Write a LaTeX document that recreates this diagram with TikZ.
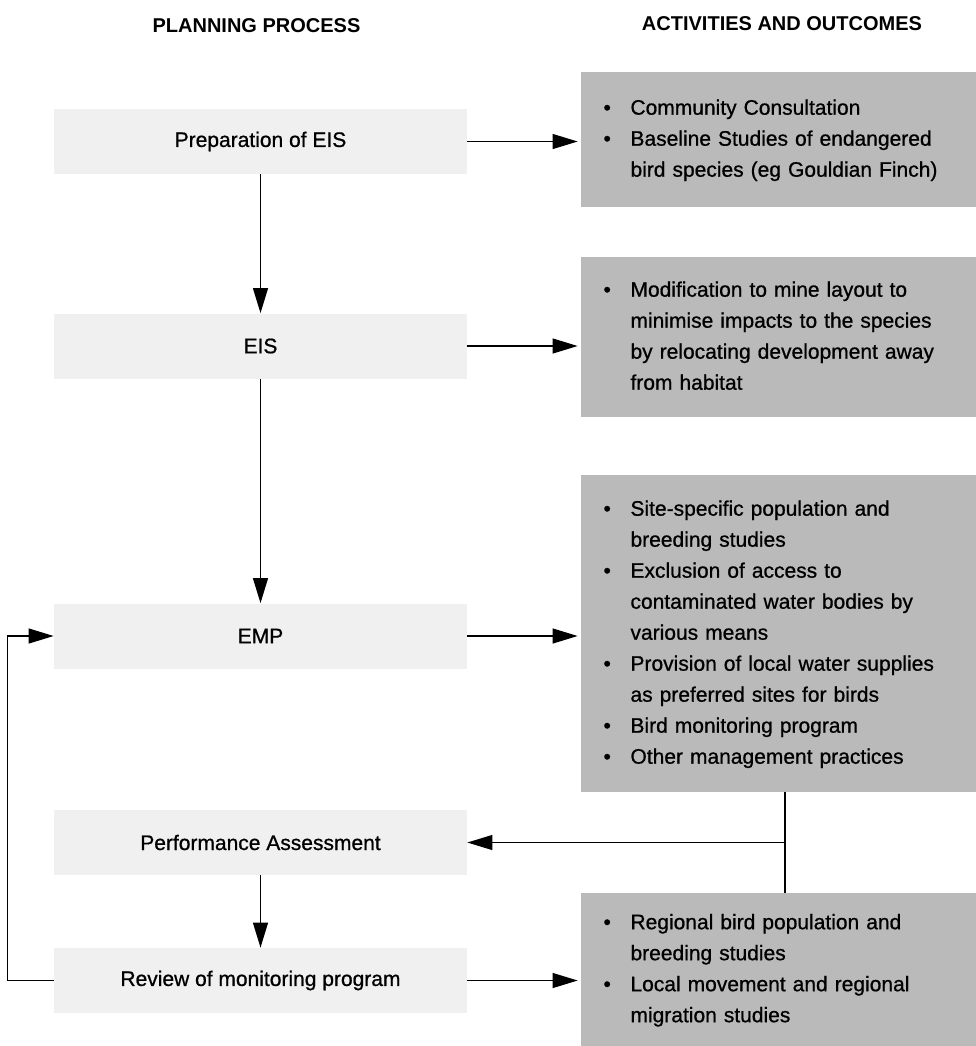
\documentclass[tikz,border=0pt]{standalone}
\usepackage{fontspec}
\setmainfont{Liberation Sans}
\newfontfamily\boxfont{Liberation Sans}[FakeBold=0.8]
\usetikzlibrary{arrows.meta}

\newcommand{\bul}{\textbullet}

\begin{document}
\begin{tikzpicture}[
  x = 0.5pt, y = -0.5pt,
  block_plan/.style={rectangle, text centered, fill=black!6,
    minimum height = 32.5pt, minimum width = 206.5pt, font=\boxfont\fontsize{10.5}{15.5}\selectfont},
  block_out/.style={rectangle, align=left, fill=black!27, text width = 175pt,
    inner xsep = 11.25pt, font=\boxfont\fontsize{10.5}{15.5}\selectfont},
  title/.style={font=\bfseries\fontsize{10}{12}\selectfont},
  line/.style={draw, -, line width=0.6pt},
  line_arrow/.style={draw, line width=0.6pt, -{Triangle[length=12.5pt,width=7.5pt]}}
  ]
\useasboundingbox (0,0) rectangle (976,1046);

\node [block_plan] (prep) at (260.5,141.5) {Preparation of EIS};
\node [block_plan, below of=prep, node distance=102.25pt] (eis) {EIS};
\node [block_plan, below of=eis, node distance=145pt] (emp) {EMP};
\node [block_plan, below of=emp, node distance=103.25pt] (perf) {Performance Assessment};
\node [block_plan, below of=perf, node distance=69pt] (review) {Review of monitoring program};

\node [title, above of=prep, node distance=58pt, xshift=-2pt] (t_plan) {PLANNING PROCESS};

\node [block_out, right of=prep, node distance=259pt, yshift=1pt, minimum height=67.5pt] (out_prep)
  {\begin{tabular}{@{}p{13.5pt}@{}l@{}}
   \bul & Community Consultation\\
   \bul & Baseline Studies of endangered\\
        & bird species (eg Gouldian Finch)
   \end{tabular}};
\node [block_out, right of=eis, node distance=259pt, yshift=4.5pt, minimum height=80pt] (out_eis)
  {\begin{tabular}{@{}p{13.5pt}@{}l@{}}
   \bul & Modification to mine layout to\\
        & minimise impacts to the species\\
        & by relocating development away\\
        & from habitat
   \end{tabular}};
\node [block_out, right of=emp, node distance=259pt, yshift=1.25pt, minimum height=158.5pt] (out_emp)
  {\begin{tabular}{@{}p{13.5pt}@{}l@{}}
   \bul & Site-specific population and\\
        & breeding studies\\
   \bul & Exclusion of access to\\
        & contaminated water bodies by\\
        & various means\\
   \bul & Provision of local water supplies\\
        & as preferred sites for birds\\
   \bul & Bird monitoring program\\
   \bul & Other management practices
   \end{tabular}};
\node [block_out, right of=review, node distance=259pt, yshift=5.5pt, minimum height=76.5pt] (out_review)
  {\begin{tabular}{@{}p{13.5pt}@{}l@{}}
   \bul & Regional bird population and\\
        & breeding studies\\
   \bul & Local movement and regional\\
        & migration studies
   \end{tabular}};

\node [title, above of=out_prep, node distance=58pt, xshift=1.75pt] (t_out) {ACTIVITIES AND OUTCOMES};

\path [line_arrow] (prep) -- (eis);
\path [line_arrow] (eis) -- (emp);
\path [line_arrow] (perf) -- (review);

\path [line_arrow, shorten >=1.5pt] (prep.east) -- (prep.east -| out_prep.west);
\path [line_arrow, shorten >=1.5pt] (eis.east) -- (eis.east -| out_eis.west);
\path [line_arrow, shorten >=1.5pt] (emp.east) -- (emp.east -| out_emp.west);
\path [line_arrow, shorten >=1.5pt] (review.east) -- (review.east -| out_review.west);

\path [line_arrow] (review.west) -- ++(-46,0) |- (emp.west);

\path [line] ([xshift=3.25pt]out_emp.south) -- ([xshift=3.25pt]out_emp.south |- out_review.north);
\path [line_arrow] ([xshift=3.25pt]out_emp.south |- perf.east) -- (perf.east);
\end{tikzpicture}
\end{document}
